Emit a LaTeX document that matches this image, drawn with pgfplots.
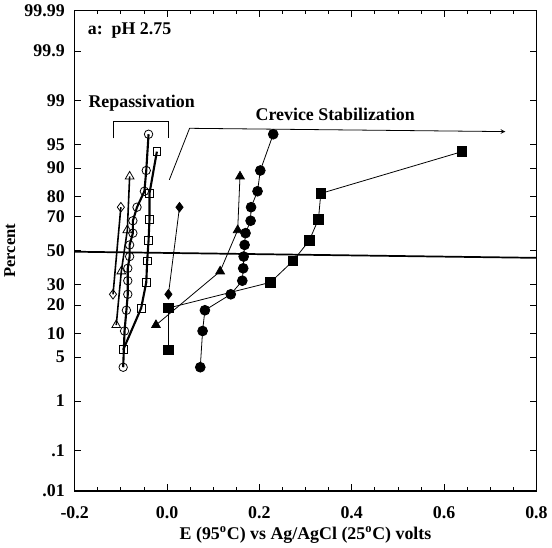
\documentclass[border=0pt]{standalone}
\usepackage{fontspec}
\setmainfont{Liberation Serif}
\usepackage{pgfplots}
\pgfplotsset{compat=1.18}

\begin{document}
\begin{tikzpicture}
\begin{axis}[
    scale only axis,
    width=348.75pt, height=363pt,
    xmin=-0.2, xmax=0.8,
    ymin=-3.719, ymax=3.719,
    axis line style={line width=1.2pt},
    font=\fontsize{13.5}{16}\selectfont\bfseries,
    xtick={-0.2,0,0.2,0.4,0.6,0.8},
    xticklabels={-0.2,0.0,0.2,0.4,0.6,0.8},
    minor x tick num=3,
    ytick={-3.719,-3.090,-2.326,-1.645,-1.2816,-0.8416,-0.5244,0,0.5244,0.8416,1.2816,1.645,2.326,3.090,3.719},
    yticklabels={.01,.1,1,5,10,20,30,50,70,80,90,95,99,99.9,99.99},
    major tick length=5pt, minor tick length=3pt,
    tick style={black, line width=0.6pt},
    xticklabel style={yshift=-8pt},
    yticklabel style={xshift=-4pt},
    xlabel={E (95\textsuperscript{o}C) vs Ag/AgCl (25\textsuperscript{o}C) volts},
    ylabel={Percent},
    xlabel style={yshift=1pt},
    ylabel style={font=\fontsize{12.5}{15}\selectfont\bfseries},
]
% open circles (thick)
\addplot[black, line width=1.6pt, mark=o, mark size=3.2pt, mark options={line width=0.6pt}] coordinates {
(-0.095,-1.803) (-0.092,-1.242) (-0.088,-0.921) (-0.085,-0.674) (-0.085,-0.464) (-0.085,-0.272) (-0.081,-0.090)
(-0.081,0.090) (-0.074,0.272) (-0.074,0.464) (-0.065,0.674) (-0.049,0.921) (-0.045,1.242) (-0.040,1.803)
};
% open squares (thick)
\addplot[black, line width=1.6pt, mark=square, mark size=3pt, mark options={line width=0.6pt}] coordinates {
(-0.095,-1.534) (-0.056,-0.887) (-0.045,-0.489) (-0.043,-0.157) (-0.040,0.157) (-0.038,0.489) (-0.038,0.887) (-0.022,1.534)
};
% open triangles
\addplot[black, line width=1.2pt, mark=triangle, mark size=3.8pt, mark options={line width=0.6pt}] coordinates {
(-0.110,-1.150) (-0.099,-0.319) (-0.086,0.319) (-0.081,1.150)
};
% open diamonds
\addplot[black, line width=1.2pt, mark=diamond, mark size=3.6pt, mark options={line width=0.6pt}] coordinates {
(-0.117,-0.674) (-0.100,0.674)
};
% filled diamonds
\addplot[black, line width=0.6pt, mark=diamond*, mark size=3.6pt] coordinates {
(0.003,-0.674) (0.027,0.674)
};
% filled triangles
\addplot[black, line width=0.6pt, mark=triangle*, mark size=3.8pt] coordinates {
(-0.024,-1.150) (0.115,-0.319) (0.153,0.319) (0.158,1.150)
};
% filled squares
\addplot[black, line width=0.6pt, mark=square*, mark size=3.6pt] coordinates {
(0.003,-1.534) (0.003,-0.887) (0.224,-0.489) (0.273,-0.157) (0.308,0.157) (0.328,0.489) (0.333,0.887) (0.639,1.534)
};
% filled circles
\addplot[black, line width=0.6pt, mark=*, mark size=3.7pt] coordinates {
(0.072,-1.803) (0.077,-1.242) (0.082,-0.921) (0.138,-0.674) (0.163,-0.464) (0.165,-0.272) (0.166,-0.090)
(0.168,0.090) (0.170,0.272) (0.181,0.464) (0.182,0.674) (0.196,0.921) (0.202,1.242) (0.230,1.803)
};
% 50 percent line
\draw[line width=1.3pt] (axis cs:-0.2,-0.015) -- (axis cs:0.8,-0.11);
% annotations
\node[anchor=west, inner sep=0pt] at (axis cs:-0.172,3.406) {a:\ \ pH 2.75};
\node[anchor=west, inner sep=0pt] at (axis cs:-0.1705,2.286) {Repassivation};
\node[anchor=west, inner sep=0pt] at (axis cs:0.1914,2.109) {Crevice Stabilization};
\draw[line width=0.6pt] (axis cs:-0.1168,1.739) -- (axis cs:-0.1168,2.0) -- (axis cs:0.0037,2.0) -- (axis cs:0.0037,1.739);
\draw[line width=0.6pt, -stealth] (axis cs:0.005,1.098) -- (axis cs:0.0488,1.895) -- (axis cs:0.7327,1.844);
\end{axis}
\end{tikzpicture}
\end{document}
